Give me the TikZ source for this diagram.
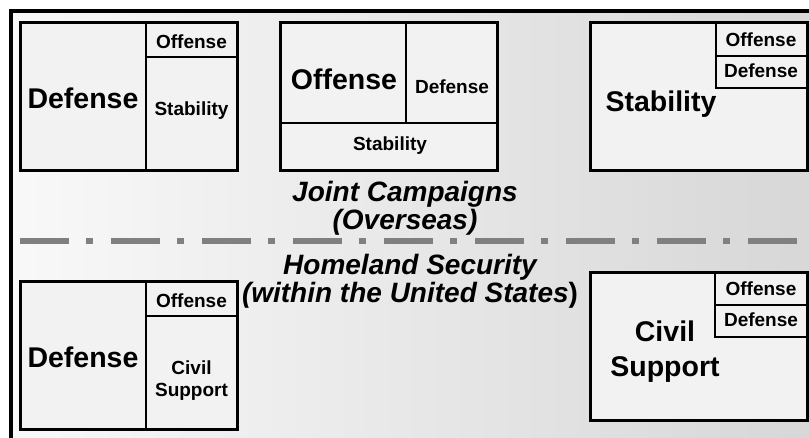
\documentclass[tikz,border=0pt]{standalone}
\usepackage{fontspec}
\setmainfont{Liberation Sans}
\usetikzlibrary{positioning}
\definecolor{panelfill}{gray}{0.95}
\definecolor{splitclr}{gray}{0.5}
\pgfdeclarehorizontalshading{bgshade}{100bp}{color(0bp)=(white); color(25bp)=(gray!5); color(70bp)=(gray!29); color(100bp)=(gray!40)}
\tikzset{
  panel/.style={draw=black,line width=3pt,fill=panelfill},
  divider/.style={draw=black,line width=2.5pt},
  bigtxt/.style={font=\fontsize{28.5}{35}\selectfont\bfseries,anchor=base,inner sep=0pt,align=center},
  smalltxt/.style={font=\fontsize{19}{21.7}\selectfont\bfseries,anchor=base,inner sep=0pt,align=center},
  headtxt/.style={font=\fontsize{28}{28}\selectfont\bfseries\itshape,anchor=base,inner sep=0pt,align=center},
}

\begin{document}
\begin{tikzpicture}[x=1pt, y=-1pt]
\useasboundingbox (0,0) rectangle (809,438);
\shade[shading=bgshade] (11,11) rectangle (809,438);
\draw[line width=4pt] (11,438) -- (11,11) -- (809,11);

\draw[panel] (20,23) rectangle (237,171);
\draw[divider] (146,23) -- (146,171);
\draw[divider] (146,57) -- (237,57);
\node[bigtxt] (tlDef) at (83,109) {Defense};
\node[smalltxt] (tlOff) at (191.5,49) {Offense};
\node[smalltxt] (tlStab) at (191.5,116) {Stability};

\draw[panel] (280,23) rectangle (497,171);
\draw[divider] (406,23) -- (406,123);
\draw[divider] (280,123) -- (497,123);
\node[bigtxt] (tmOff) at (344,90) {Offense};
\node[smalltxt] (tmDef) at (452,94) {Defense};
\node[smalltxt] (tmStab) at (390,151) {Stability};

\draw[panel] (590,23) rectangle (807,171);
\draw[divider] (716,23) rectangle (807,88);
\draw[divider] (716,56) -- (807,56);
\node[bigtxt] (trStab) at (661,112) {Stability};
\node[smalltxt] (trOff) at (761,47) {Offense};
\node[smalltxt] (trDef) at (761,78) {Defense};

\node[headtxt] (joint) at (405,230) {Joint Campaigns\\(Overseas)};
\draw[splitclr, line width=6pt, dash pattern=on 49pt off 17pt on 7pt off 18pt] (20,241) -- (797,241);
\node[headtxt] (homeland) at (410,303) {Homeland Security\\(within the United States\textup{)}};

\draw[panel] (20,282) rectangle (237,429);
\draw[divider] (146,282) -- (146,429);
\draw[divider] (146,316) -- (237,316);
\node[bigtxt] (blDef) at (83,367) {Defense};
\node[smalltxt] (blOff) at (191.5,308) {Offense};
\node[smalltxt] (blCiv) at (191.5,396) {Civil\\Support};

\draw[panel] (590,273) rectangle (807,420);
\draw[divider] (715,273) rectangle (807,337);
\draw[divider] (715,305) -- (807,305);
\node[bigtxt] (brCiv) at (665,377) {Civil\\Support};
\node[smalltxt] (brOff) at (761,296) {Offense};
\node[smalltxt] (brDef) at (761,327) {Defense};
\end{tikzpicture}
\end{document}
